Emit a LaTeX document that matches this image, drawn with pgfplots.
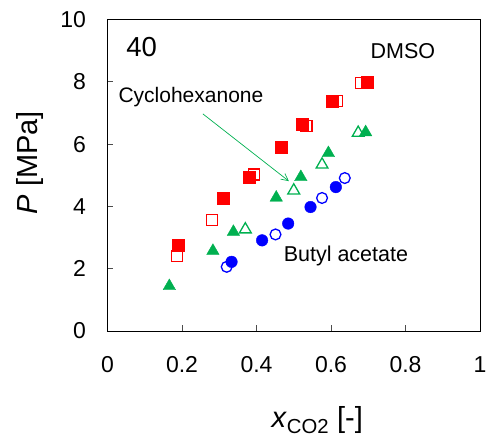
\documentclass[border=0pt]{standalone}
\usepackage{fontspec}
\setmainfont{Liberation Sans}
\usepackage{pgfplots}
\pgfplotsset{compat=1.18}
\usetikzlibrary{arrows.meta}
\definecolor{xred}{RGB}{255,0,0}
\definecolor{xgreen}{RGB}{0,176,80}
\definecolor{xblue}{RGB}{0,0,255}
\begin{document}
\begin{tikzpicture}
\path[use as bounding box] (-107.5pt,-108pt) rectangle (379.5pt,331pt);
\begin{axis}[
  scale only axis,
  width=372.5pt, height=311.5pt,
  xmin=0, xmax=1, ymin=0, ymax=10,
  xtick={0,0.2,0.4,0.6,0.8,1},
  ytick={0,2,4,6,8,10},
  xticklabels={0,0.2,0.4,0.6,0.8,1},
  yticklabels={0,2,4,6,8,10},
  tick align=inside,
  xtick pos=bottom, ytick pos=left,
  major tick length=6pt,
  axis line style={line width=0.8pt},
  tick style={line width=0.6pt, color=black!70},
  /pgf/number format/assume math mode=true,
  ticklabel style={font=\fontsize{23}{27}\selectfont},
  xticklabel style={yshift=-22pt},
  yticklabel style={xshift=-18pt},
  xlabel={\textit{x}\textsubscript{CO2} [-]},
  ylabel={\textit{P} [MPa]},
  label style={font=\fontsize{29}{34}\selectfont},
  xlabel style={at={(axis description cs:0.563,-0.2857)}, anchor=center},
  ylabel style={at={(axis description cs:-0.208,0.54)}, anchor=center},
  clip=false,
]
% DMSO filled
\addplot[only marks, mark=square*, mark size=6pt, color=xred, fill=xred] coordinates {
(0.190,2.75) (0.311,4.25) (0.381,4.94) (0.467,5.90) (0.523,6.65) (0.603,7.37) (0.696,7.98)};
% DMSO open
\addplot[only marks, mark=square, mark size=5.5pt, color=xred, line width=1.3pt, fill=white] coordinates {
(0.186,2.41) (0.280,3.57) (0.393,5.02) (0.534,6.59) (0.617,7.39) (0.680,7.96)};
% Cyclohexanone open
\addplot[only marks, mark=triangle, mark size=6.8pt, color=xgreen, line width=1.3pt, fill=white] coordinates {
(0.370,3.26) (0.500,4.51) (0.576,5.34) (0.673,6.36)};
% Cyclohexanone filled
\addplot[only marks, mark=triangle*, mark size=7.2pt, color=xgreen, fill=xgreen] coordinates {
(0.166,1.44) (0.283,2.57) (0.338,3.18) (0.453,4.28) (0.519,4.94) (0.593,5.71) (0.693,6.38)};
% Butyl acetate open
\addplot[only marks, mark=o, mark size=5.4pt, color=xblue, line width=1.3pt, fill=white] coordinates {
(0.320,2.06) (0.451,3.10) (0.576,4.27) (0.637,4.91)};
% Butyl acetate filled
\addplot[only marks, mark=*, mark size=5.8pt, color=xblue, fill=xblue] coordinates {
(0.333,2.22) (0.415,2.91) (0.485,3.45) (0.545,3.98) (0.613,4.62)};
\node[font=\fontsize{27.5}{32}\selectfont] at (axis cs:0.0916,9.13) {40};
\node[font=\fontsize{21.5}{25}\selectfont] at (axis cs:0.793,9.0) {DMSO};
\node[font=\fontsize{21}{25}\selectfont] at (axis cs:0.224,7.51) {Cyclohexanone};
\node[font=\fontsize{21.5}{25}\selectfont] at (axis cs:0.640,2.40) {Butyl acetate};
\draw[xgreen, line width=0.7pt, -{Straight Barb[length=7pt,width=7pt]}] (axis cs:0.256,6.97) -- (axis cs:0.487,4.81);
\end{axis}
\end{tikzpicture}
\end{document}
